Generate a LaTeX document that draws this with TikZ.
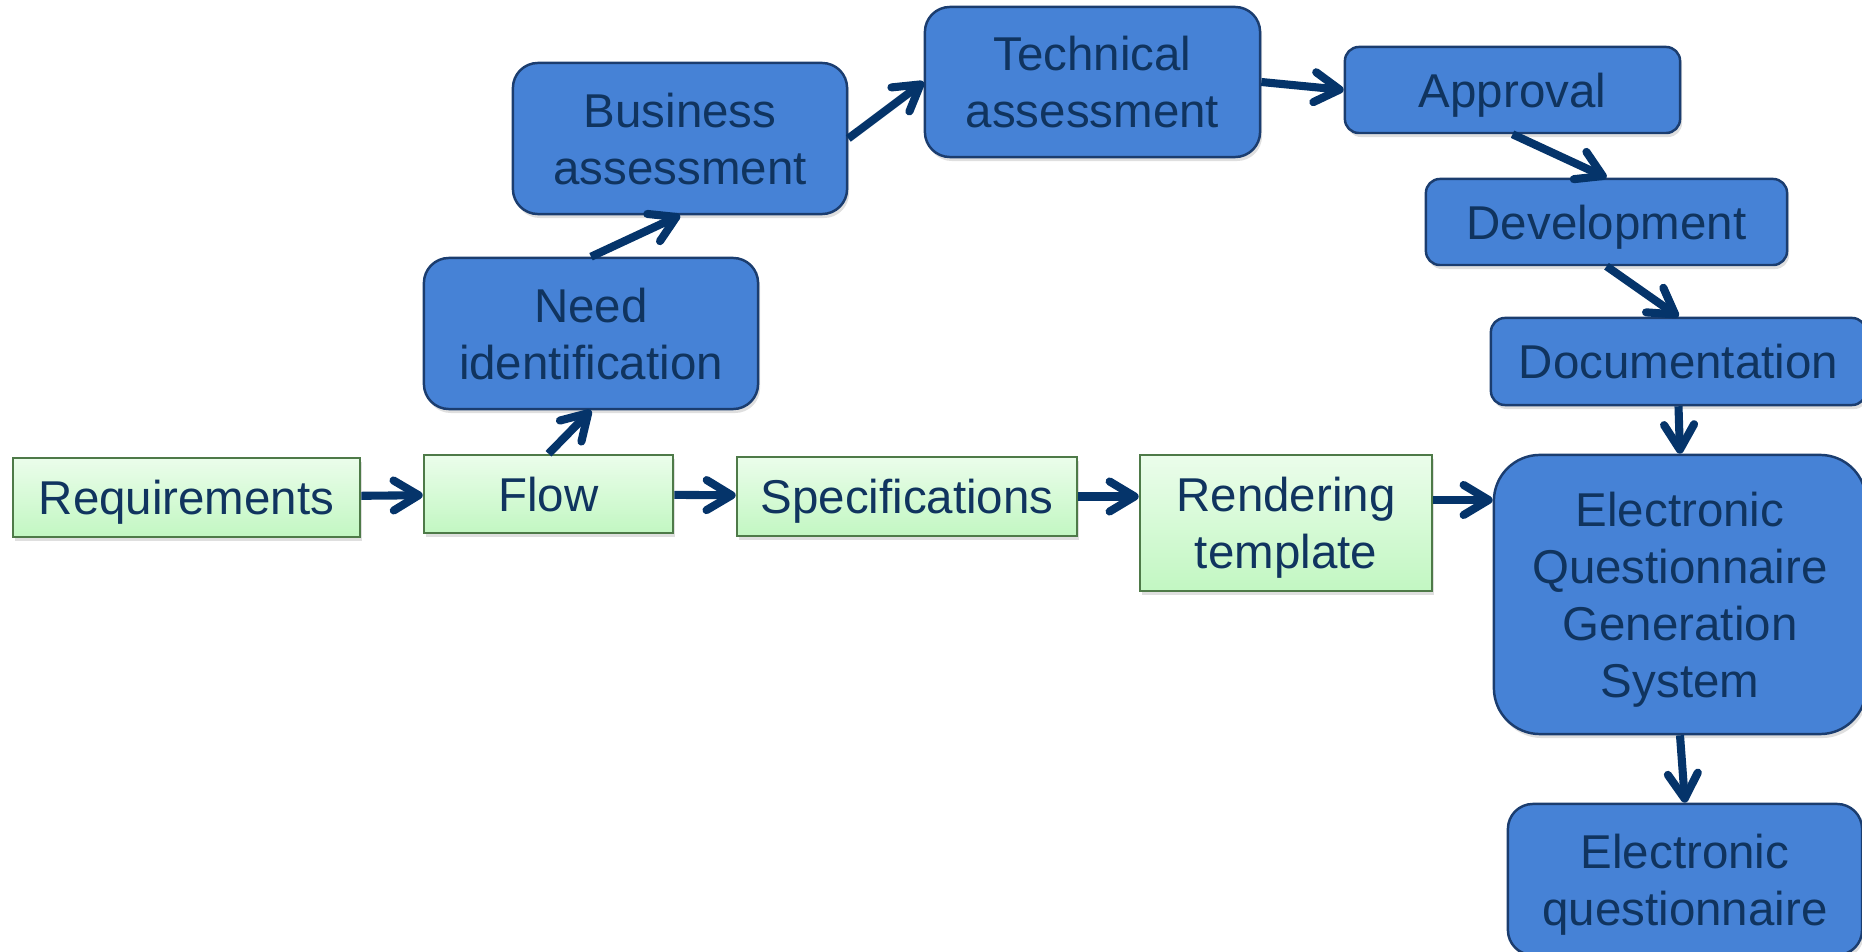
\documentclass[tikz,border=0pt]{standalone}
\usepackage{fontspec}
\setmainfont{Liberation Sans}
\usetikzlibrary{positioning, arrows.meta, shadows}

\definecolor{boxblue}{HTML}{4682D6}
\definecolor{boxline}{HTML}{1B3D6F}
\definecolor{inkblue}{HTML}{10345F}
\definecolor{arrowblue}{HTML}{05346A}
\definecolor{greentop}{HTML}{EBFDEB}
\definecolor{greenbot}{HTML}{C2F7C2}
\definecolor{greenline}{HTML}{4E7A48}

\begin{document}
\begin{tikzpicture}[x=0.01cm, y=-0.01cm,
  every node/.style = {font=\fontsize{13.5}{16.2}\selectfont, text=inkblue, align=center, inner sep=0pt, text depth=0pt},
  stage/.style = {draw=boxline, line width=0.7pt, fill=boxblue, drop shadow={opacity=0.25, shadow xshift=0.02cm, shadow yshift=-0.04cm}},
  input/.style = {draw=greenline, line width=0.7pt, top color=greentop, bottom color=greenbot, drop shadow={opacity=0.25, shadow xshift=0.02cm, shadow yshift=-0.04cm}},
  arr/.style = {-{Straight Barb[length=2.5mm, width=3.0mm, round]}, line width=2.3pt, draw=arrowblue}]
\useasboundingbox (0,0) rectangle (1862,952);

% bottom row
\node[input, minimum width=3.47cm, minimum height=0.79cm] (req) at (186.5,497.5) {Requirements};
\node[input, minimum width=2.49cm, minimum height=0.78cm] (flow) at (548.5,494) {Flow};
\node[input, minimum width=3.40cm, minimum height=0.79cm] (spec) at (907,496.5) {Specifications};
\node[input, minimum width=2.92cm, minimum height=1.36cm] (rend) at (1286,523) {Rendering\\template};
\node[stage, rounded corners=0.46cm, minimum width=3.72cm, minimum height=2.79cm] (eqgs) at (1680,594.5) {Electronic\\Questionnaire\\Generation\\System};
\node[stage, rounded corners=0.25cm, minimum width=3.54cm, minimum height=1.51cm] (eq) at (1685,879.5) {Electronic\\questionnaire};

% upper path
\node[stage, rounded corners=0.25cm, minimum width=3.34cm, minimum height=1.51cm] (need) at (591,333.5) {Need\\identification};
\node[stage, rounded corners=0.25cm, minimum width=3.34cm, minimum height=1.51cm] (bus) at (680,138.5) {Business\\assessment};
\node[stage, rounded corners=0.25cm, minimum width=3.35cm, minimum height=1.50cm] (tech) at (1092.5,82) {Technical\\assessment};
\node[stage, rounded corners=0.14cm, minimum width=3.35cm, minimum height=0.86cm] (appr) at (1512.5,90) {Approval};
\node[stage, rounded corners=0.14cm, minimum width=3.61cm, minimum height=0.86cm] (dev) at (1606.5,222) {Development};
\node[stage, rounded corners=0.14cm, minimum width=3.75cm, minimum height=0.87cm] (doc) at (1678.5,361.5) {Documentation};

\draw[arr] (req) -- (flow);
\draw[arr] (flow) -- (spec);
\draw[arr] (spec.east) -- (spec.east -| rend.west);
\draw[arr] ([yshift=0.23cm]rend.east) -- ([yshift=0.23cm]rend.east -| eqgs.west);
\draw[arr] (flow.north) -- (need.south);
\draw[arr] (need.north) -- (bus.south);
\draw[arr] (bus.east) -- (tech.west);
\draw[arr] (tech.east) -- (appr.west);
\draw[arr] (appr.south) -- (dev.north);
\draw[arr] (dev.south) -- (doc.north);
\draw[arr] (doc.south) -- (eqgs.north);
\draw[arr] (eqgs.south) -- (eq.north);

\end{tikzpicture}
\end{document}
